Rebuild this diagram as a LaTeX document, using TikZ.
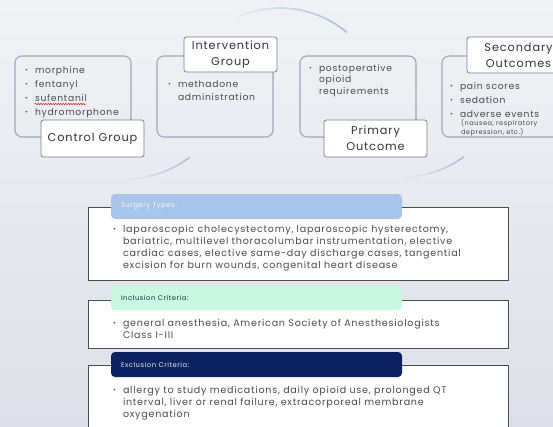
\documentclass[tikz,border=0pt]{standalone}
\usepackage{fontspec}
\setmainfont{Poppins}[LetterSpace=8]
\usetikzlibrary{positioning, decorations.pathmorphing}
\definecolor{bgtop}{RGB}{241,242,245}
\definecolor{bgbot}{RGB}{221,224,232}
\definecolor{boxline}{RGB}{158,166,186}
\definecolor{lblline}{RGB}{120,126,138}
\definecolor{arcblue}{RGB}{168,190,228}
\definecolor{surgtab}{RGB}{168,196,233}
\definecolor{incltab}{RGB}{201,247,225}
\definecolor{excltab}{RGB}{14,33,96}
\definecolor{bodytxt}{RGB}{72,74,82}
\newcommand{\blt}{\makebox[10pt][l]{\raisebox{0.1em}{\scriptsize\textbullet}}}
\newcommand{\cnt}{\hspace*{10pt}}

\begin{document}
\begin{tikzpicture}[x=1pt, y=-1pt, every node/.style={inner sep=0pt, outer sep=0pt},
  grp/.style={draw=boxline, line width=1.1pt, rounded corners=7pt,
    minimum width=116pt, minimum height=81pt, anchor=north west},
  lbl/.style={draw=lblline, fill=white, line width=0.8pt, rounded corners=2.5pt,
    align=center, text=black!80, font=\fontsize{11.3}{16}\selectfont},
  itm/.style={anchor=north west, align=left, text=bodytxt},
  panel/.style={draw=black!70, fill=white, line width=0.9pt,
    minimum width=420pt, anchor=north west},
  tab/.style={rounded corners=4pt, minimum width=291pt, minimum height=25pt,
    anchor=north west},
  tabtxt/.style={anchor=west, font=\fontsize{6.8}{9}\selectfont},
  body/.style={anchor=north west, align=left, text=bodytxt,
    font=\fontsize{9.55}{12}\selectfont}]
\useasboundingbox (0,0) rectangle (553,426);
\shade[top color=bgtop, bottom color=bgbot] (0,0) rectangle (553,426);

% arcs between the groups
\foreach \cx/\cy/\sa/\ea/\r in {280/112/-114/-50/104, 125/72/88/53/107, 402/72/88/54/105}
  \foreach \k in {0,...,9} {
    \pgfmathsetmacro\aa{\sa+(\ea-\sa)*\k/10}
    \pgfmathsetmacro\ab{\sa+(\ea-\sa)*(\k+1)/10}
    \pgfmathtruncatemacro\pc{20+\k*9}
    \draw[arcblue!\pc!bgtop, line width=1.6pt] (\cx,\cy) ++(\aa:\r)
      arc[start angle=\aa, end angle=\ab, radius=\r];
  }

% top row
\node[grp] (ctl) at (15,56) {};
\node[grp] (int) at (157,56) {};
\node[grp] (pri) at (300,56) {};
\node[grp, minimum width=125pt] (sec) at (442,56) {};

\node[itm, font=\fontsize{9.2}{14.3}\selectfont] (ctlitems) at (25,66)
  {\blt morphine\\ \blt fentanyl\\ \blt sufentanil\\ \blt hydromorphone};
\draw[red!80!black, line width=0.5pt, decoration={snake, amplitude=0.6pt, segment length=2.5pt}, decorate]
  (35,104) -- (86,104);
\node[itm, font=\fontsize{9.2}{13}\selectfont] (intitems) at (168,81)
  {\blt methadone\\ \cnt administration};
\node[itm, font=\fontsize{9.2}{11.5}\selectfont] (priitems) at (309,64)
  {\blt postoperative\\ \cnt opioid\\ \cnt requirements};
\node[itm, font=\fontsize{9.2}{14}\selectfont] (secitems) at (450,82)
  {\blt pain scores\\ \blt sedation\\ \blt adverse events};
\node[itm, font=\fontsize{6.6}{8.5}\selectfont] (secnote) at (461,119.5)
  {(nausea, respiratory\\ depression, etc.)};

\node[lbl, minimum width=103pt, minimum height=37pt, anchor=north west] (ctllbl) at (41,120) {Control Group};
\node[lbl, minimum width=93pt, minimum height=35pt, anchor=north west] (intlbl) at (184,37) {Intervention\\Group};
\node[lbl, minimum width=103pt, minimum height=37pt, anchor=north west] (prilbl) at (324,120) {Primary\\Outcome};
\node[lbl, minimum width=103pt, minimum height=36pt, anchor=north west] (seclbl) at (467,37) {Secondary\\Outcomes};

% bottom panels
\node[panel, minimum height=73pt] (surg) at (88,207) {};
\node[tab, fill=surgtab] (surgtab) at (111,194) {};
\node[tabtxt, text=white!92!surgtab] at ([xshift=10pt]surgtab.west) {Surgery Types:};
\node[body] (surgbody) at (113,225)
  {\blt laparoscopic cholecystectomy, laparoscopic hysterectomy,\\
   \cnt bariatric, multilevel thoracolumbar instrumentation, elective\\
   \cnt cardiac cases, elective same-day discharge cases, tangential\\
   \cnt excision for burn wounds, congenital heart disease};

\node[panel, minimum height=48pt] (incl) at (88,300) {};
\node[tab, fill=incltab] (incltab) at (111,285) {};
\node[tabtxt, text=black!55!teal] at ([xshift=10pt]incltab.west) {Inclusion Criteria:};
\node[body] (inclbody) at (113,319)
  {\blt general anesthesia, American Society of Anesthesiologists\\
   \cnt Class I-III};

\node[panel, minimum height=64pt] (excl) at (88,365) {};
\node[tab, fill=excltab] (excltab) at (111,352) {};
\node[tabtxt, text=white!90!excltab] at ([xshift=10pt]excltab.west) {Exclusion Criteria:};
\node[body] (exclbody) at (113,386)
  {\blt allergy to study medications, daily opioid use, prolonged QT\\
   \cnt interval, liver or renal failure, extracorporeal membrane\\
   \cnt oxygenation};
\end{tikzpicture}
\end{document}
